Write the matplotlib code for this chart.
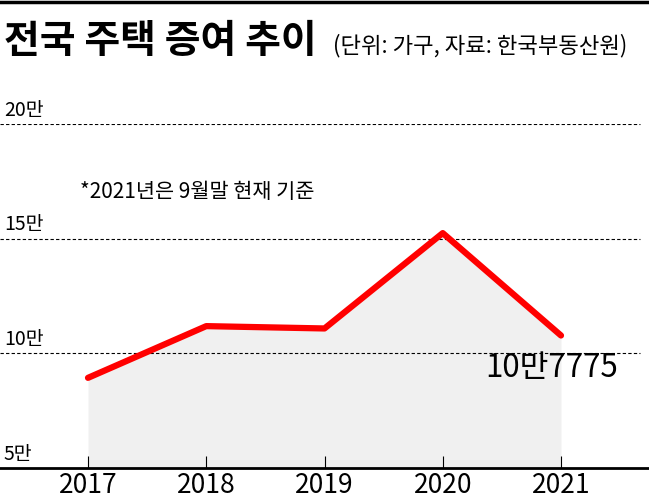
import matplotlib.pyplot as plt
import matplotlib.lines as mlines

plt.rcParams['font.family'] = ['Noto Sans CJK KR', 'DejaVu Sans']
narrow = ['Liberation Sans Narrow', 'Noto Sans CJK KR', 'DejaVu Sans']

years = [2017, 2018, 2019, 2020, 2021]
gifts = [89312, 111864, 110847, 152427, 107775]
grid_vals = [100000, 150000, 200000]
ytick_labels = {50000: '5만', 100000: '10만', 150000: '15만', 200000: '20만'}
last_label = '10만7775'

W, H = 649, 501
fig = plt.figure(figsize=(W / 100, H / 100), dpi=100)

# axes: bottom at 5만 (px 468), top at 20만 (px 124)
ax = fig.add_axes([0, (H - 468) / H, 1, (468 - 124) / H])
px_per_year = 118.25
x0 = years[0] - 88 / px_per_year
x1 = years[0] + (W - 88) / px_per_year
ax.set_xlim(x0, x1)
ax.set_ylim(50000, 200000)

ax.fill_between(years, gifts, 50000, color='#f0f0f0', lw=0, zorder=1)
for g in grid_vals:
    ax.axhline(g, xmin=0, xmax=640 / W, color='black', lw=0.8,
               ls=(0, (3, 2)), zorder=2)
ax.plot(years, gifts, color='#ff0000', lw=4.5, solid_capstyle='round', zorder=3)

for v, lab in ytick_labels.items():
    ax.text(x0 + 4 / px_per_year, v + 1500, lab, fontsize=14,
            ha='left', va='bottom', clip_on=False)

ax.text(years[-1] - 0.08, 93500, last_label, fontsize=22.5, family=narrow,
        ha='center', va='center', zorder=4)

ax.text(x0 + 80 / px_per_year, 170500, '*2021년은 9월말 현재 기준',
        fontsize=15, ha='left', va='center')

for s in ['top', 'left', 'right']:
    ax.spines[s].set_visible(False)
ax.spines['bottom'].set_linewidth(2)
ax.set_yticks([])
ax.set_xticks(years)
ax.set_xticklabels([str(y) for y in years], fontsize=19, family=narrow)
ax.tick_params(axis='x', direction='in', length=9, width=0.8, pad=3)

# top rule and title
fig.add_artist(mlines.Line2D([0, 1], [1 - 1.5 / H, 1 - 1.5 / H],
                             color='black', lw=2.5))
fig.text(4 / W, 1 - 42 / H, '전국 주택 증여 추이', fontsize=28,
         fontweight='black', ha='left', va='center')
fig.text(333 / W, 1 - 46 / H, '(단위: 가구, 자료: 한국부동산원)',
         fontsize=16, ha='left', va='center')

fig.savefig('out.png', dpi=100)
